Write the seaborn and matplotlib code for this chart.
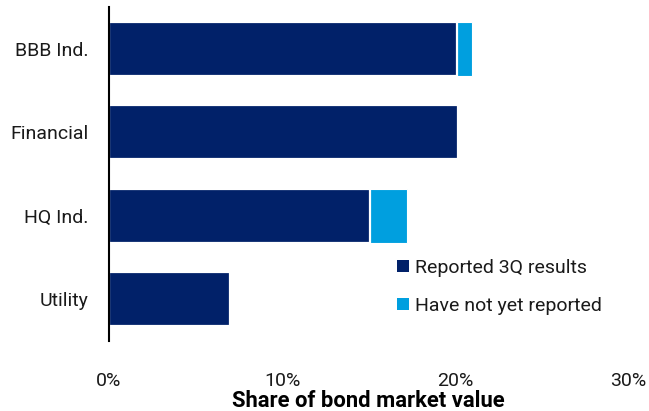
import matplotlib
matplotlib.use("Agg")
import matplotlib.pyplot as plt
from matplotlib.patches import Patch
import seaborn as sns
import pandas as pd

categories = ["BBB Ind.", "Financial", "HQ Ind.", "Utility"]
reported = [20.1, 20.2, 15.1, 7.0]
not_reported = [0.9, 0.0, 2.1, 0.0]
x_ticks = [0, 10, 20, 30]
x_tick_labels = ["0%", "10%", "20%", "30%"]
series_names = ["Reported 3Q results", "Have not yet reported"]

DARK = "#012169"
LIGHT = "#009FDF"
TEXT = "#1a1a1a"

sns.set_style("white")
plt.rcParams["font.family"] = ["Roboto", "DejaVu Sans"]

df = pd.DataFrame({
    "cat": categories,
    "reported": reported,
    "total": [a + b for a, b in zip(reported, not_reported)],
})

fig = plt.figure(figsize=(6.49, 4.11), dpi=100)
ax = fig.add_axes([109 / 649, 1 - 341 / 411, (628 - 109) / 649, (341 - 7) / 411])

sns.barplot(data=df, y="cat", x="total", color=LIGHT, orient="h", width=0.65,
            saturation=1, edgecolor="white", linewidth=0.8, ax=ax)
sns.barplot(data=df, y="cat", x="reported", color=DARK, orient="h", width=0.65,
            saturation=1, edgecolor="white", linewidth=1.6, ax=ax)

ax.set_xlim(0, 30)
ax.set_ylim(3.5, -0.5)
ax.set_xticks(x_ticks)
ax.set_xticklabels(x_tick_labels)
ax.tick_params(axis="both", length=0, labelsize=14, colors=TEXT)
ax.tick_params(axis="x", pad=22)
ax.tick_params(axis="y", pad=15)
ax.set_ylabel("")
ax.set_xlabel("Share of bond market value", fontsize=15.8, fontweight="bold",
              labelpad=0, color="black")
for s in ["top", "right", "bottom"]:
    ax.spines[s].set_visible(False)
ax.spines["left"].set_color("black")
ax.spines["left"].set_linewidth(1.5)

handles = [Patch(facecolor=DARK, edgecolor="none"), Patch(facecolor=LIGHT, edgecolor="none")]
leg = ax.legend(handles, series_names, loc="upper left", bbox_to_anchor=(0.54, 0.27),
                frameon=False, handlelength=0.6, handleheight=0.6,
                handletextpad=0.3, labelspacing=1.05, borderaxespad=0,
                prop={"size": 14})
for t in leg.get_texts():
    t.set_color(TEXT)

fig.savefig("out.png", dpi=100)
